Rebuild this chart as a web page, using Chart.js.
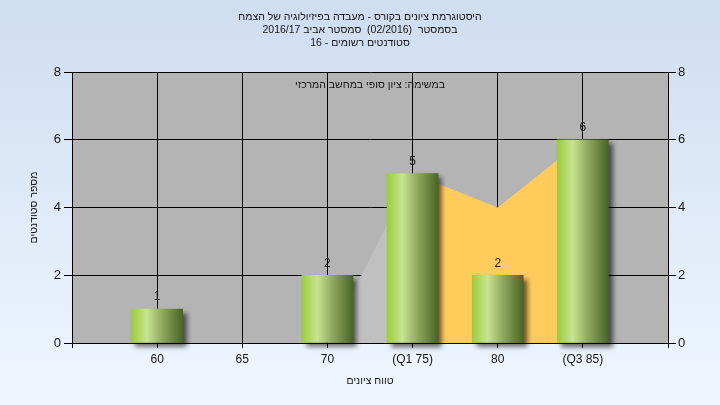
<!DOCTYPE html>
<html>
<head>
<meta charset="utf-8">
<script src="https://cdn.jsdelivr.net/npm/chart.js@4/dist/chart.umd.min.js"></script>
<style>
  html, body { margin: 0; padding: 0; }
  #wrap { width: 720px; height: 405px; }
</style>
</head>
<body>
<div id="wrap"><canvas id="hist" width="720" height="405"></canvas></div>
<script>
// --- data ---
const gradeLabels = ['', '60', '65', '70', '(Q1 75)', '80', '(Q3 85)', ''];
const studentCounts = [null, 1, 0, 2, 5, 2, 6, null];
const lowerSpan = [null, null, null, 0, 5, null, null, null];
const quartileSpan = [null, null, null, null, 5, 4, 6, null];
const yMin = 0, yMax = 8, yStep = 2;

const titleLines = [
  'היסטוגרמת ציונים בקורס - מעבדה בפיזיולוגיה של הצמח',
  'בסמסטר  (02/2016)  סמסטר אביב 2016/17',
  'סטודנטים רשומים - 16',
];
const taskLine = 'במשימה: ציון סופי במחשב המרכזי';
const xTitle = 'טווח ציונים';
const yTitle = 'מספר סטודנטים';

const FONT = 'Liberation Sans, Arial, sans-serif';
const TEXT = '#151515';
const BAR_W = 51;
const HEB_SIZE = 10.5;

// =========================================================
// Plugins: background, bar shadow, value labels, titles
// =========================================================
const backdrop = {
  id: 'backdrop',
  beforeDraw(chart) {
    const { ctx, chartArea: a } = chart;
    ctx.save();
    const g = ctx.createLinearGradient(0, 0, 0, chart.height);
    g.addColorStop(0, '#cfddf1');
    g.addColorStop(1, '#eff6ff');
    ctx.fillStyle = g;
    ctx.fillRect(0, 0, chart.width, chart.height);
    ctx.fillStyle = '#b4b4b4';
    ctx.fillRect(a.left, a.top, a.right - a.left, a.bottom - a.top);
    ctx.restore();
  },
};

const barShadow = {
  id: 'barShadow',
  beforeDatasetDraw(chart, args) {
    if (args.meta.type !== 'bar') return;
    const ctx = chart.ctx;
    ctx.save();
    ctx.shadowColor = 'rgba(0,0,0,0.6)';
    ctx.shadowBlur = 5;
    ctx.shadowOffsetX = 4;
    ctx.shadowOffsetY = 4;
  },
  afterDatasetDraw(chart, args) {
    if (args.meta.type !== 'bar') return;
    chart.ctx.restore();
  },
};

const valueLabels = {
  id: 'valueLabels',
  afterDatasetsDraw(chart) {
    const ctx = chart.ctx;
    const meta = chart.getDatasetMeta(0);
    ctx.save();
    ctx.font = '12px ' + FONT;
    ctx.fillStyle = TEXT;
    ctx.textAlign = 'center';
    ctx.textBaseline = 'middle';
    meta.data.forEach((el, i) => {
      const v = studentCounts[i];
      if (!v) return;
      ctx.fillText(String(v), el.x, el.y - 12);
    });
    ctx.restore();
  },
};

const titles = {
  id: 'titles',
  afterDraw(chart) {
    const { ctx, chartArea: a } = chart;
    ctx.save();
    ctx.font = HEB_SIZE + 'px ' + FONT;
    ctx.fillStyle = TEXT;
    ctx.textAlign = 'center';
    ctx.textBaseline = 'middle';
    ctx.direction = 'rtl';
    titleLines.forEach((t, i) => ctx.fillText(t, chart.width / 2, 17 + i * 13));
    ctx.fillText(taskLine, (a.left + a.right) / 2, 85);
    ctx.restore();
  },
};

// cylinder-like gradient for each bar
function barFill(c) {
  const chart = c.chart;
  const xs = chart.scales && chart.scales.x;
  if (!xs || c.dataIndex == null) return '#8fb050';
  if (!studentCounts[c.dataIndex]) return 'transparent';
  const cx = xs.getPixelForValue(c.dataIndex);
  if (!isFinite(cx)) return '#8fb050';
  const g = chart.ctx.createLinearGradient(cx - BAR_W / 2, 0, cx + BAR_W / 2, 0);
  g.addColorStop(0, '#9ccd3a');
  g.addColorStop(0.3, '#c7e491');
  g.addColorStop(0.6, '#8fa860');
  g.addColorStop(1, '#4a6524');
  return g;
}

const tickFont = { family: FONT, size: 12 };
const hebFont = { family: FONT, size: HEB_SIZE };

const chart = new Chart(document.getElementById('hist'), {
  type: 'bar',
  data: {
    labels: gradeLabels,
    datasets: [
      {
        type: 'bar',
        data: studentCounts,
        backgroundColor: barFill,
        borderWidth: 0,
        barThickness: BAR_W,
        clip: false,
        order: 1,
      },
      {
        type: 'line',
        data: lowerSpan,
        fill: 'origin',
        backgroundColor: '#c0c0c0',
        borderColor: 'transparent',
        pointRadius: 0,
        tension: 0,
        order: 2,
      },
      {
        type: 'line',
        data: quartileSpan,
        fill: 'origin',
        backgroundColor: '#ffcc5c',
        borderColor: 'transparent',
        pointRadius: 0,
        tension: 0,
        order: 2,
      },
    ],
  },
  options: {
    responsive: false,
    animation: false,
    layout: { padding: { top: 72 } },
    plugins: { legend: { display: false }, tooltip: { enabled: false } },
    scales: {
      x: {
        type: 'category',
        offset: false,
        grid: { offset: false, color: '#000', lineWidth: 1, tickLength: 5, tickColor: '#000' },
        border: { color: '#000', width: 1 },
        ticks: { autoSkip: false, maxRotation: 0, padding: 4, color: TEXT, font: tickFont },
        title: { display: true, text: xTitle, color: TEXT, font: hebFont, padding: { top: 0, bottom: 18 } },
        afterFit(s) { s.height = 62; },
      },
      y: {
        position: 'left',
        min: yMin,
        max: yMax,
        ticks: { stepSize: yStep, padding: 3, color: TEXT, font: { family: FONT, size: 13 } },
        grid: { color: '#000', lineWidth: 1, tickLength: 8, tickColor: '#000' },
        border: { color: '#000', width: 1 },
        title: { display: true, text: yTitle, color: TEXT, font: hebFont, padding: { top: 28, bottom: 0 } },
        afterFit(s) { s.width = 72; },
      },
      y2: {
        position: 'right',
        min: yMin,
        max: yMax,
        ticks: { stepSize: yStep, padding: 2, color: TEXT, font: { family: FONT, size: 13 } },
        grid: { drawOnChartArea: false, color: '#000', tickLength: 8, tickColor: '#000' },
        border: { color: '#000', width: 1 },
        afterFit(s) { s.width = 52; },
      },
    },
  },
  plugins: [backdrop, barShadow, valueLabels, titles],
});
chart.update();
</script>
</body>
</html>
